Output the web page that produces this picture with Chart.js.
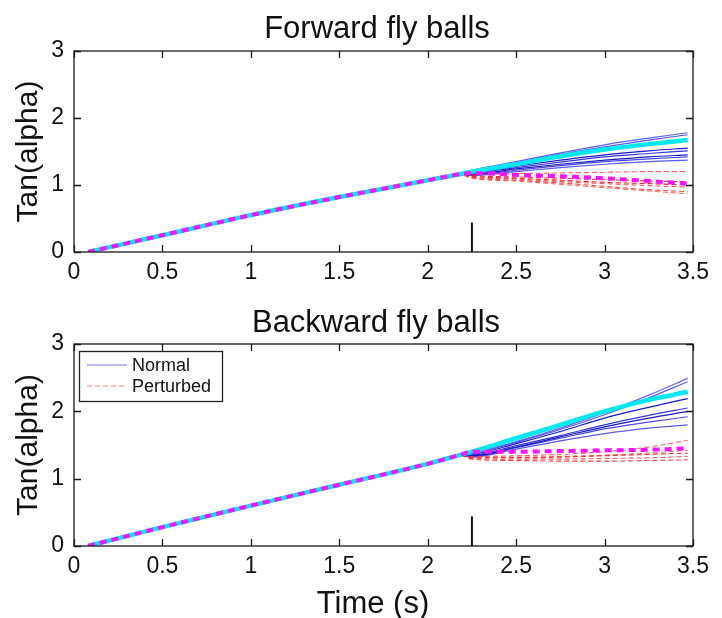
<!DOCTYPE html>
<html><head><meta charset="utf-8">
<script src="https://cdn.jsdelivr.net/npm/chart.js@4.4.0/dist/chart.umd.min.js"></script>
<style>
html,body{margin:0;padding:0;background:#fff;}
#wrap{position:relative;width:722px;height:618px;overflow:hidden;background:#fff;}
canvas{position:absolute;left:0;}
#c1{top:0;}
#c2{top:295px;}
</style></head><body>
<div id="wrap"><canvas id="c1" width="722" height="295"></canvas><canvas id="c2" width="722" height="323"></canvas></div>
<script>
// ---------- data ----------
const timePre  = [0.08, 0.5, 1.0, 1.5, 2.0, 2.18];
const timePost = [2.25, 2.5, 2.75, 3.0, 3.25, 3.47];
const xTickValues = [0, 0.5, 1, 1.5, 2, 2.5, 3, 3.5];
const xTickLabels = ['0', '0.5', '1', '1.5', '2', '2.5', '3', '3.5'];
const yTickValues = [0, 1, 2, 3];
const yTickLabels = ['0', '1', '2', '3'];
const markerTime = 2.25;
const markerHeight = 0.44;

// Forward fly balls
const fwdPre = [0, 0.25, 0.55, 0.82, 1.07, 1.16];
const fwdNormal1 = [1.22, 1.35, 1.48, 1.60, 1.70, 1.78];
const fwdNormal2 = [1.21, 1.33, 1.46, 1.57, 1.67, 1.75];
const fwdNormal3 = [1.18, 1.28, 1.37, 1.45, 1.51, 1.55];
const fwdNormal4 = [1.17, 1.26, 1.34, 1.42, 1.47, 1.51];
const fwdNormal5 = [1.16, 1.24, 1.31, 1.37, 1.42, 1.45];
const fwdNormal6 = [1.15, 1.22, 1.29, 1.35, 1.39, 1.42];
const fwdNormal7 = [1.14, 1.20, 1.26, 1.31, 1.35, 1.37];
const fwdNormalMean = [1.20, 1.31, 1.43, 1.53, 1.61, 1.67];
const fwdPert1 = [1.16, 1.17, 1.18, 1.19, 1.20, 1.20];
const fwdPert2 = [1.14, 1.12, 1.10, 1.08, 1.06, 1.05];
const fwdPert3 = [1.12, 1.09, 1.05, 1.02, 0.99, 0.97];
const fwdPert4 = [1.11, 1.07, 1.03, 0.98, 0.93, 0.90];
const fwdPert5 = [1.10, 1.06, 1.01, 0.96, 0.91, 0.87];
const fwdPert6 = [1.13, 1.10, 1.07, 1.04, 1.02, 1.00];
const fwdPertMean = [1.18, 1.15, 1.13, 1.10, 1.06, 1.02];

// Backward fly balls
const bwdPre = [0, 0.28, 0.60, 0.91, 1.22, 1.35];
const bwdNormal1 = [1.38, 1.55, 1.75, 1.98, 2.24, 2.49];
const bwdNormal2 = [1.37, 1.54, 1.73, 1.95, 2.20, 2.44];
const bwdNormal3 = [1.36, 1.52, 1.70, 1.90, 2.06, 2.19];
const bwdNormal4 = [1.35, 1.49, 1.64, 1.80, 1.94, 2.05];
const bwdNormal5 = [1.34, 1.47, 1.62, 1.77, 1.90, 2.00];
const bwdNormal6 = [1.33, 1.46, 1.60, 1.74, 1.84, 1.92];
const bwdNormal7 = [1.32, 1.44, 1.56, 1.67, 1.75, 1.80];
const bwdNormalMean = [1.40, 1.60, 1.80, 2.00, 2.17, 2.29];
const bwdPert1 = [1.33, 1.34, 1.36, 1.40, 1.47, 1.57];
const bwdPert2 = [1.31, 1.31, 1.32, 1.34, 1.36, 1.38];
const bwdPert3 = [1.30, 1.29, 1.29, 1.30, 1.31, 1.33];
const bwdPert4 = [1.29, 1.27, 1.26, 1.26, 1.27, 1.28];
const bwdPert5 = [1.32, 1.32, 1.33, 1.35, 1.38, 1.42];
const bwdPertMean = [1.40, 1.40, 1.41, 1.42, 1.43, 1.45];

// ---------- styling / building ----------
const FONT = '"Liberation Sans", Arial, Helvetica, sans-serif';
const blueShades = ['rgba(70,70,240,0.85)', 'rgba(60,60,235,0.85)', 'rgba(0,0,200,0.9)', 'rgba(20,20,210,0.85)', 'rgba(0,0,180,0.9)', 'rgba(40,40,220,0.85)', 'rgba(60,60,230,0.85)'];
const redShades = ['rgba(255,60,60,0.8)', 'rgba(235,20,20,0.85)', 'rgba(250,50,50,0.8)', 'rgba(240,30,30,0.85)', 'rgba(255,70,70,0.8)', 'rgba(230,0,0,0.85)'];

function series(pre, post) {
  return timePre.map((t, i) => ({x: t, y: pre[i]})).concat(timePost.map((t, i) => ({x: t, y: post[i]})));
}

function buildDatasets(pre, normals, normalMean, perts, pertMean) {
  const ds = [];
  normals.forEach((n, i) => ds.push({data: series(pre, n), borderColor: blueShades[i % blueShades.length], borderWidth: 1.2, order: 4}));
  perts.forEach((p, i) => ds.push({data: series(pre, p), borderColor: redShades[i % redShades.length], borderWidth: 1.1, borderDash: [5, 3], order: 3}));
  ds.push({data: series(pre, normalMean), borderColor: '#00e8f0', borderWidth: 4.5, order: 2});
  ds.push({data: series(pre, pertMean), borderColor: '#ff10ff', borderWidth: 4, borderDash: [7, 5], order: 1});
  ds.push({data: [{x: markerTime, y: 0}, {x: markerTime, y: markerHeight}], borderColor: '#111', borderWidth: 2, order: 0, cubicInterpolationMode: 'default', tension: 0});
  return ds;
}

const decoPlugin = {
  id: 'deco',
  afterDraw(chart, args, opts) {
    const {ctx, chartArea: a} = chart;
    const xs = chart.scales.x, ys = chart.scales.y;
    ctx.save();
    ctx.strokeStyle = '#1a1a1a';
    ctx.lineWidth = 1.3;
    ctx.strokeRect(a.left, a.top, a.right - a.left, a.bottom - a.top);
    ctx.beginPath();
    xs.ticks.forEach(t => {
      const p = Math.round(xs.getPixelForValue(t.value)) + 0.5;
      ctx.moveTo(p, a.bottom); ctx.lineTo(p, a.bottom - 7);
      ctx.moveTo(p, a.top); ctx.lineTo(p, a.top + 7);
    });
    ys.ticks.forEach(t => {
      const p = Math.round(ys.getPixelForValue(t.value)) + 0.5;
      ctx.moveTo(a.left, p); ctx.lineTo(a.left + 7, p);
      ctx.moveTo(a.right, p); ctx.lineTo(a.right - 7, p);
    });
    ctx.stroke();
    ctx.fillStyle = '#111';
    ctx.textAlign = 'center';
    ctx.textBaseline = 'alphabetic';
    ctx.font = '31px ' + FONT;
    ctx.fillText(opts.title, opts.titleX, opts.titleY);
    if (opts.xlabel) {
      ctx.font = '31px ' + FONT;
      ctx.fillText(opts.xlabel, opts.xlabelX, opts.xlabelY);
    }
    if (opts.legend) {
      const L = opts.legend;
      ctx.fillStyle = '#fff';
      ctx.fillRect(L.x, L.y, L.w, L.h);
      ctx.strokeStyle = '#222';
      ctx.lineWidth = 1.3;
      ctx.strokeRect(L.x + 0.5, L.y + 0.5, L.w, L.h);
      ctx.lineWidth = 1.2;
      ctx.strokeStyle = 'rgba(90,90,240,0.85)';
      ctx.beginPath(); ctx.moveTo(L.x + 8, L.y + 14); ctx.lineTo(L.x + 48, L.y + 14); ctx.stroke();
      ctx.strokeStyle = 'rgba(255,80,80,0.75)';
      ctx.setLineDash([5, 3]);
      ctx.beginPath(); ctx.moveTo(L.x + 8, L.y + 35); ctx.lineTo(L.x + 48, L.y + 35); ctx.stroke();
      ctx.setLineDash([]);
      ctx.fillStyle = '#111';
      ctx.textAlign = 'left';
      ctx.textBaseline = 'middle';
      ctx.font = '18px ' + FONT;
      ctx.fillText(L.labels[0], L.x + 53, L.y + 15);
      ctx.fillText(L.labels[1], L.x + 53, L.y + 36);
    }
    ctx.restore();
  }
};

function makeChart(id, datasets, xHeight, padTop, deco) {
  return new Chart(document.getElementById(id), {
    type: 'line',
    data: {datasets},
    plugins: [decoPlugin],
    options: {
      responsive: false,
      animation: false,
      events: [],
      layout: {padding: {top: padTop, right: 29, left: 0, bottom: 0}},
      elements: {point: {radius: 0}, line: {cubicInterpolationMode: 'monotone', fill: false}},
      plugins: {legend: {display: false}, tooltip: {enabled: false}, title: {display: false}, deco},
      scales: {
        x: {
          type: 'linear', min: 0, max: 3.5,
          grid: {display: false, drawTicks: false, tickLength: 0},
          border: {display: false},
          afterBuildTicks: s => { s.ticks = xTickValues.map(v => ({value: v})); },
          afterFit: s => { s.height = xHeight; },
          ticks: {padding: 7, color: '#111', font: {family: FONT, size: 23}, maxRotation: 0,
            callback: (v) => xTickLabels[xTickValues.indexOf(v)]}
        },
        y: {
          type: 'linear', min: 0, max: 3,
          grid: {display: false, drawTicks: false, tickLength: 0},
          border: {display: false},
          afterBuildTicks: s => { s.ticks = yTickValues.map(v => ({value: v})); },
          afterFit: s => { s.width = 74; },
          ticks: {padding: 10, color: '#111', font: {family: FONT, size: 23},
            callback: (v) => yTickLabels[yTickValues.indexOf(v)]},
          title: {display: true, text: 'Tan(alpha)', color: '#111', font: {family: FONT, size: 30, lineHeight: 1.2}, padding: {top: 11, bottom: 0}}
        }
      }
    }
  });
}

makeChart('c1',
  buildDatasets(fwdPre,
    [fwdNormal1, fwdNormal2, fwdNormal3, fwdNormal4, fwdNormal5, fwdNormal6, fwdNormal7], fwdNormalMean,
    [fwdPert1, fwdPert2, fwdPert3, fwdPert4, fwdPert5, fwdPert6], fwdPertMean),
  43, 51,
  {title: 'Forward fly balls', titleX: 377, titleY: 38});

makeChart('c2',
  buildDatasets(bwdPre,
    [bwdNormal1, bwdNormal2, bwdNormal3, bwdNormal4, bwdNormal5, bwdNormal6, bwdNormal7], bwdNormalMean,
    [bwdPert1, bwdPert2, bwdPert3, bwdPert4, bwdPert5], bwdPertMean),
  72, 49,
  {title: 'Backward fly balls', titleX: 376, titleY: 37, xlabel: 'Time (s)', xlabelX: 373, xlabelY: 318,
   legend: {x: 79, y: 56, w: 143, h: 50, labels: ['Normal', 'Perturbed']}});
</script>
</body></html>
